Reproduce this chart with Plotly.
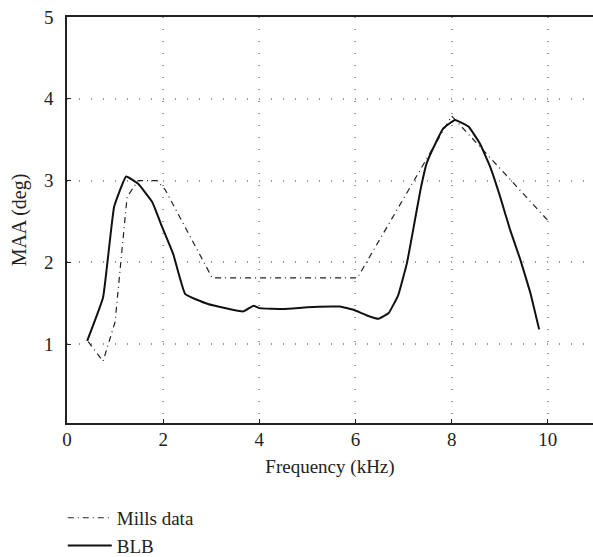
import plotly.graph_objects as go

# Mills data (dash-dot)
mills_f = [0.44, 0.75, 1.0, 1.25, 1.48, 1.87, 2.04, 3.02, 6.04, 8.0, 10.02]
mills_maa = [1.03, 0.79, 1.27, 2.8, 3.0, 3.0, 2.89, 1.81, 1.81, 3.79, 2.5]

# BLB model (solid)
blb_f = [0.42, 0.75, 0.98, 1.23, 1.48, 1.77, 1.98, 2.21, 2.46, 2.93, 3.67, 3.88,
         4.0, 4.5, 5.0, 5.5, 5.68, 5.96, 6.24, 6.48, 6.69, 6.89, 7.07, 7.21, 7.35,
         7.48, 7.66, 7.83, 8.07, 8.35, 8.59, 8.80, 9.01, 9.22, 9.43, 9.64, 9.82]
blb_maa = [1.04, 1.57, 2.68, 3.05, 2.96, 2.74, 2.43, 2.1, 1.61, 1.49, 1.40, 1.47,
           1.44, 1.43, 1.45, 1.46, 1.46, 1.42, 1.35, 1.31, 1.38, 1.60, 1.99, 2.43, 2.88,
           3.21, 3.45, 3.64, 3.74, 3.66, 3.45, 3.17, 2.80, 2.39, 2.03, 1.62, 1.18]

x_ticks = [0, 2, 4, 6, 8, 10]
y_ticks = [1, 2, 3, 4, 5]

fig = go.Figure()
fig.add_trace(go.Scatter(x=mills_f, y=mills_maa, mode="lines", name="Mills data",
                         legendgroup="a",
                         line=dict(color="#222", width=1.2, dash="6px,4px,1px,4px")))
fig.add_trace(go.Scatter(x=blb_f, y=blb_maa, mode="lines", name="BLB",
                         legendgroup="b",
                         line=dict(color="#111", width=2, shape="spline", smoothing=0.3)))

axis_common = dict(showline=True, linecolor="#222", linewidth=1.5,
                   ticks="inside", ticklen=4, tickcolor="#222",
                   showgrid=True, gridcolor="#999", griddash="1px,11px", gridwidth=1.5,
                   zeroline=False, automargin=False, tickfont=dict(size=19, color="#222"))

# top border via mirror on x; no right border (cut off in the reference)
fig.update_xaxes(range=[0, 10.94], tickvals=x_ticks, ticklabelstandoff=-2, mirror=True,
                 title=dict(text="Frequency (kHz)", font=dict(size=19, color="#222"), standoff=11),
                 **axis_common)
fig.update_yaxes(range=[0.035, 5], tickvals=y_ticks, ticklabelstandoff=8, mirror=False,
                 title=dict(text="MAA (deg)", font=dict(size=20, color="#222"), standoff=12),
                 **axis_common)

fig.update_layout(
    width=593, height=557,
    margin=dict(l=67, r=0, t=17, b=134, autoexpand=False),
    plot_bgcolor="white", paper_bgcolor="white",
    font=dict(family="Liberation Serif, DejaVu Serif, serif", color="#222"),
    showlegend=True,
    legend=dict(x=-0.008, y=-0.187, xanchor="left", yanchor="top",
                font=dict(size=19), tracegroupgap=0, itemwidth=44,
                bgcolor="rgba(0,0,0,0)"),
)

# drop the default 8px page margin so the figure sits at the window origin
fig.write_html("out.html", config={"displayModeBar": False},
               post_script="document.body.style.margin='0';")
